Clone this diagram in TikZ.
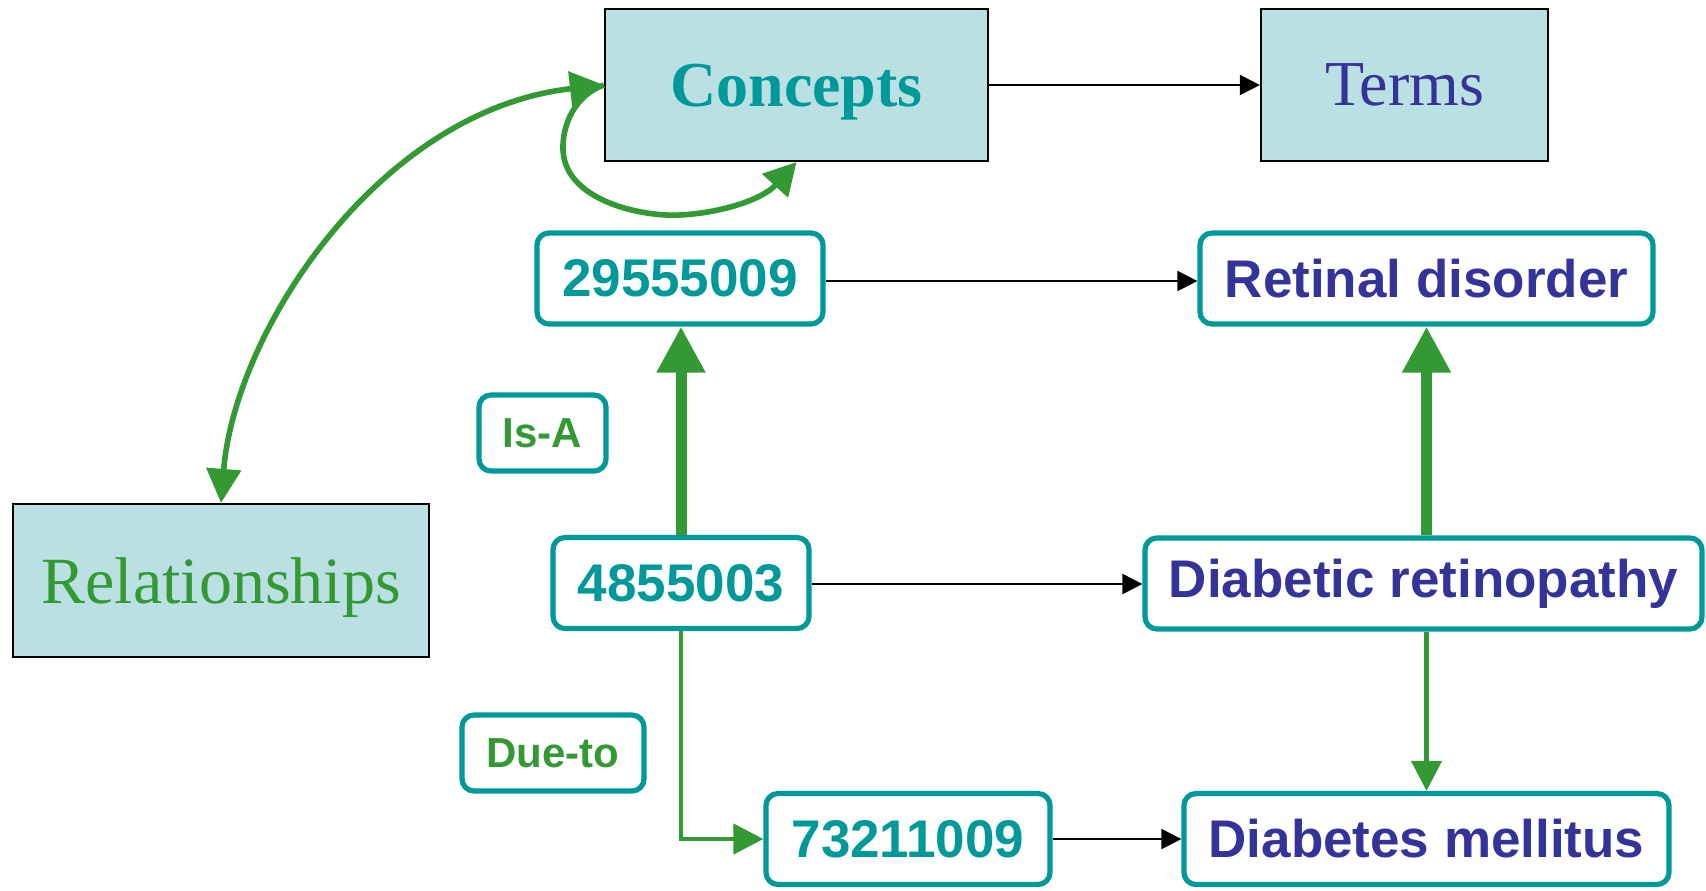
\documentclass[tikz,border=0pt]{standalone}
\usepackage{fontspec}
\setmainfont{Liberation Serif}
\setsansfont{Liberation Sans}
\usetikzlibrary{arrows.meta}
\definecolor{teal}{HTML}{009999}
\definecolor{paleblue}{HTML}{BBE0E3}
\definecolor{grn}{HTML}{339933}
\definecolor{navy}{HTML}{333399}
\begin{document}
\begin{tikzpicture}[x=0.5pt,y=-0.5pt,
  bigbox/.style={draw=black, line width=1.1pt, fill=paleblue, inner sep=0pt, text depth=0pt},
  code/.style={draw=teal, line width=2.6pt, rounded corners=6pt, fill=white, inner sep=0pt,
    font=\sffamily\bfseries\fontsize{26.5}{30}\selectfont, minimum height=45.5pt},
  rel/.style={draw=teal, line width=2.6pt, rounded corners=6pt, fill=white, inner sep=0pt,
    font=\sffamily\bfseries\fontsize{21}{24}\selectfont, text=grn, minimum height=38pt},
  blk/.style={draw=black, line width=1pt, -{Triangle[length=10pt,width=10pt]}},
  isa/.style={draw=grn, line width=5.5pt, -{Triangle[length=23pt,width=23pt]}},
  thin/.style={draw=grn, line width=2.2pt, -{Triangle[length=15pt,width=15pt]}},
  curv/.style={draw=grn, line width=2.8pt}
]
\path[use as bounding box] (0,0) rectangle (1706,890);

% upper-level boxes
\node[bigbox, minimum width=191.5pt, minimum height=76pt, text=teal,
  font=\bfseries\fontsize{32}{38}\selectfont] (con) at (796.5,85) {Concepts};
\node[bigbox, minimum width=143.5pt, minimum height=76pt, text=navy,
  font=\fontsize{32}{38}\selectfont] (ter) at (1404.5,85) {Terms};
\node[bigbox, minimum width=208pt, minimum height=76.5pt, text=grn,
  font=\fontsize{33}{38}\selectfont] (rls) at (221,580.5) {Relationships};

% concept codes and their descriptions
\node[code, text=teal, minimum width=143pt] (c295) at (680,278.5) {29555009};
\node[code, text=navy, minimum width=226.5pt] (rd) at (1426.5,278.5) {Retinal disorder};
\node[code, text=teal, minimum width=128pt] (c485) at (681,583) {4855003};
\node[code, text=navy, minimum width=278.5pt] (dr) at (1423.5,583.5) {Diabetic retinopathy};
\node[code, text=teal, minimum width=142pt] (c732) at (908,839) {73211009};
\node[code, text=navy, minimum width=242.5pt] (dm) at (1426.5,839) {Diabetes mellitus};

% relationship labels
\node[rel, minimum width=63.5pt] (isa) at (542.5,433) {Is-A};
\node[rel, minimum width=91pt] (due) at (553,753) {Due-to};

% concept-to-term links
\draw[blk] (con.east) -- (ter.west);
\draw[blk] (c295.east |- 0,281) -- (rd.west |- 0,281);
\draw[blk] (c485.east |- 0,584) -- (dr.west |- 0,584);
\draw[blk] (c732.east) -- (dm.west);

% is-a links
\draw[isa] (c485.north) -- (c485.north |- c295.south);
\draw[isa] (rd.south |- dr.north) -- (rd.south);

% due-to links
\draw[thin] (c485.south) |- (c732.west);
\draw[thin] (rd.south |- dr.south) -- (rd.south |- dm.north);

% relationships connect concepts
\draw[curv, {Triangle[length=17pt,width=17pt]}-{Triangle[length=17pt,width=17pt]}]
  (rls.north) .. controls (235,330) and (380,110) .. (con.west);
\draw[curv, -{Triangle[length=16pt,width=17pt]}]
  (con.west) .. controls (575,95) and (562,125) .. (563,150)
  .. controls (565,200) and (640,217) .. (680,215)
  .. controls (720,213) and (762,200) .. (con.south);
\end{tikzpicture}
\end{document}
